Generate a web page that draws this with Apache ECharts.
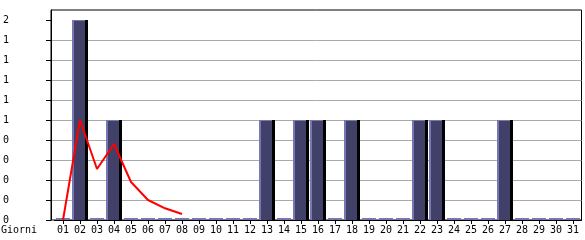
<!DOCTYPE html>
<html><head><meta charset="utf-8">
<script src="https://cdn.jsdelivr.net/npm/echarts@6/dist/echarts.min.js"></script>
<style>html,body{margin:0;padding:0;background:#fff}#c{width:585px;height:240px}</style>
</head><body><div id="c"></div>
<script>
const days = ['01','02','03','04','05','06','07','08','09','10','11','12','13','14','15','16','17','18','19','20','21','22','23','24','25','26','27','28','29','30','31'];
const visits = [0,2,0,1,0,0,0,0,0,0,0,0,1,0,1,1,0,1,0,0,0,1,1,0,0,0,1,0,0,0,0];
const trend = [0,1.0,0.51,0.76,0.38,0.2,0.117,0.06,null,null,null,null,null,null,null,null,null,null,null,null,null,null,null,null,null,null,null,null,null,null,null];
const yTicks = [0,0.2,0.4,0.6,0.8,1.0,1.2,1.4,1.6,1.8,2.0];
const yTickLabels = ['0','0','0','0','0','1','1','1','1','1','2'];
const axisName = 'Giorni';

const LAV = '#7777b4', DARK = '#404068', EDGE = '#000000';
const FONT = 'DejaVu Sans Mono';

function renderBar(params, api) {
  const idx = api.value(0), v = api.value(1);
  const base = api.coord([idx, 0]);
  const top = api.coord([idx, v]);
  const band = api.size([1, 0])[0];
  const w = Math.round(band) - 1;
  const x0 = Math.round(base[0] - w / 2);
  if (!v) {
    return {type: 'rect', shape: {x: x0 + 1, y: base[1] - 2, width: w - 2, height: 2}, style: {fill: LAV}};
  }
  const y0 = Math.round(top[1]);
  const h = base[1] - y0;
  return {type: 'group', children: [
    {type: 'rect', shape: {x: x0, y: y0, width: w, height: h}, style: {fill: DARK}},
    {type: 'rect', shape: {x: x0, y: y0, width: 2, height: h}, style: {fill: LAV}},
    {type: 'rect', shape: {x: x0, y: y0, width: w - 3, height: 1}, style: {fill: LAV}},
    {type: 'rect', shape: {x: x0 + w - 3, y: y0, width: 3, height: h}, style: {fill: EDGE}}
  ]};
}

const chart = echarts.init(document.getElementById('c'), null, {renderer: 'canvas'});
chart.setOption({
  animation: false,
  title: {text: axisName, left: 1, top: 225, padding: 0,
    textStyle: {fontFamily: FONT, fontSize: 10, fontWeight: 'normal', color: '#000'}},
  grid: [
    {left: 54.5, right: 3.5, top: 10, bottom: 20, containLabel: false},
    {left: 50, right: 3.5, top: 10, bottom: 20, containLabel: false, show: true, borderColor: '#000', borderWidth: 1, backgroundColor: 'transparent'}
  ],
  xAxis: [
    {type: 'category', gridIndex: 0, data: days, boundaryGap: true,
      axisLine: {show: true, lineStyle: {color: '#000', width: 1}},
      axisTick: {show: true, alignWithLabel: true, length: 4, lineStyle: {color: '#000'}},
      axisLabel: {interval: 0, margin: 5, fontFamily: FONT, fontSize: 10, color: '#000'},
      splitLine: {show: false}},
    {type: 'value', gridIndex: 1, min: 0, max: 1, show: false}
  ],
  yAxis: [
    {type: 'value', gridIndex: 0, min: 0, max: 2.1, show: false, splitLine: {show: false}},
    {type: 'value', gridIndex: 1, min: 0, max: 2.1, interval: 0.2,
      axisLine: {show: true, lineStyle: {color: '#000'}},
      axisTick: {show: true, length: 5, customValues: yTicks, lineStyle: {color: '#000'}},
      axisLabel: {customValues: yTicks, align: 'left', margin: 48, fontFamily: FONT, fontSize: 10, color: '#000',
        formatter: function (val) {
          const i = yTicks.findIndex(t => Math.abs(t - val) < 1e-6);
          return i >= 0 ? yTickLabels[i] : '';
        }},
      splitLine: {show: true, showMinLine: false, showMaxLine: false, lineStyle: {color: '#aaaaaa', width: 1}}}
  ],
  series: [
    {type: 'custom', xAxisIndex: 0, yAxisIndex: 0, renderItem: renderBar,
      data: visits.map((v, i) => [i, v]), z: 2},
    {type: 'line', xAxisIndex: 0, yAxisIndex: 0, data: trend, showSymbol: false, symbol: 'none',
      connectNulls: false, lineStyle: {color: '#ff0000', width: 2}, z: 5}
  ]
});
</script></body></html>
